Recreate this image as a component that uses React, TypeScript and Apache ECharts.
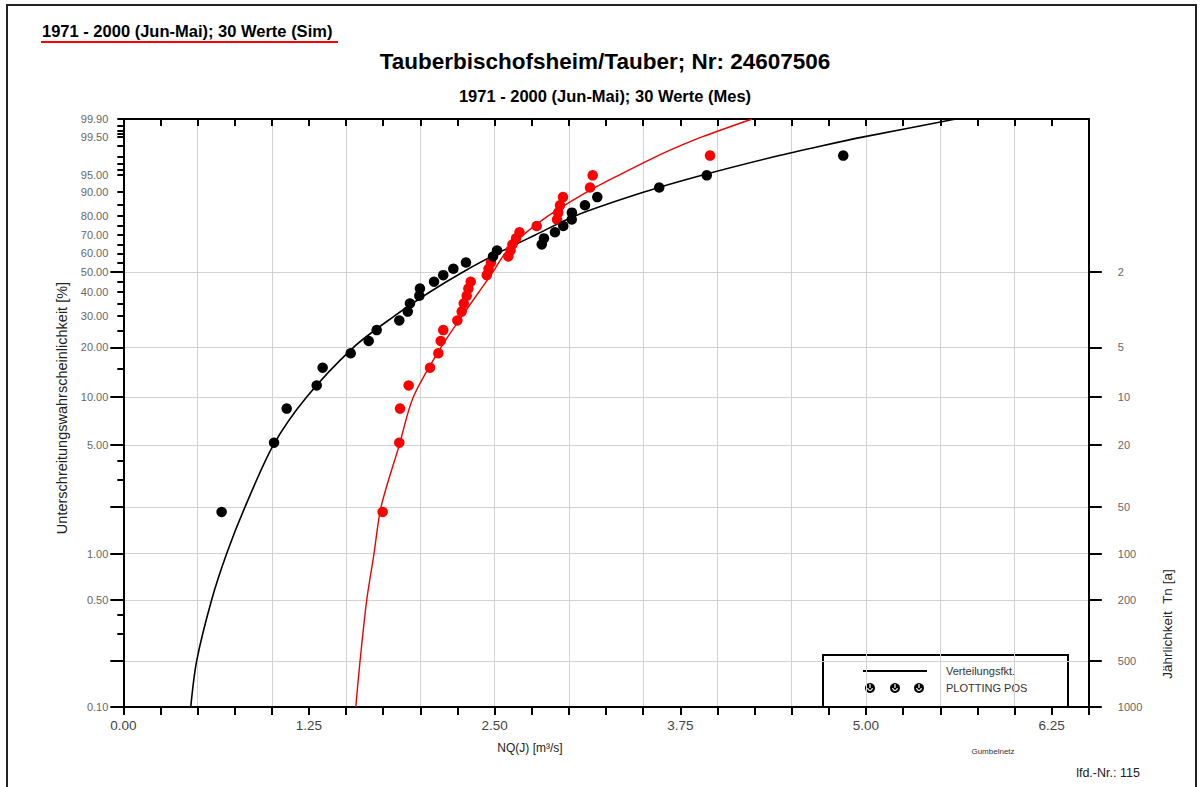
import React, { useEffect, useRef } from "react";
import * as echarts from "echarts";

// Plotting positions (Unterschreitungswahrscheinlichkeit in %) for the 30 ranked values
const plotPosPct = [
  1.86, 5.18, 8.5, 11.82, 15.14, 18.46, 21.78, 25.1, 28.42, 31.74, 35.06, 38.38, 41.7, 45.02, 48.34,
  51.66, 54.98, 58.3, 61.62, 64.94, 68.26, 71.58, 74.9, 78.22, 81.54, 84.86, 88.18, 91.5, 94.82, 98.14,
];
// Measured NQ(J) [m3/s], sorted (black)
const mesNQ = [
  0.662, 1.015, 1.1, 1.302, 1.342, 1.531, 1.652, 1.706, 1.858, 1.915, 1.93, 1.993, 1.997, 2.092, 2.154,
  2.222, 2.307, 2.489, 2.516, 2.817, 2.832, 2.906, 2.962, 3.019, 3.02, 3.108, 3.191, 3.608, 3.928, 4.847,
];
// Simulated NQ(J) [m3/s], sorted (red)
const simNQ = [
  1.746, 1.858, 1.863, 1.921, 2.065, 2.121, 2.137, 2.154, 2.249, 2.278, 2.292, 2.312, 2.323, 2.339, 2.447,
  2.459, 2.475, 2.592, 2.607, 2.62, 2.644, 2.667, 2.783, 2.92, 2.928, 2.94, 2.96, 3.142, 3.16, 3.95,
];
// Distribution function curves, read at these probabilities (%)
const curveP = [0.1, 0.2, 0.5, 1, 2, 5, 10, 20, 30, 40, 50, 60, 70, 80, 90, 95, 98, 99, 99.5, 99.9];
const mesCurve = [
  0.454, 0.494, 0.595, 0.696, 0.819, 1.01, 1.233, 1.55, 1.824, 2.061, 2.287, 2.52, 2.77, 3.041, 3.506,
  3.914, 4.381, 4.699, 4.993, 5.605,
];
const simCurve = [
  1.565, 1.594, 1.639, 1.688, 1.735, 1.858, 1.952, 2.139, 2.28, 2.393, 2.489, 2.57, 2.69, 2.86, 3.12,
  3.344, 3.584, 3.747, 3.901, 4.233,
];

// Axis ticks / labels
const xLabelValues = [0, 1.25, 2.5, 3.75, 5, 6.25];
const leftLabelPct = [0.1, 0.5, 1, 5, 10, 20, 30, 40, 50, 60, 70, 80, 90, 95, 99.5, 99.9];
const leftMinorPct = [0.2, 0.3, 0.4, 2, 3, 4, 15, 25, 35, 45, 55, 65, 75, 85, 96, 97, 98, 99, 99.6, 99.7, 99.8];
const returnPeriods = [2, 5, 10, 20, 50, 100, 200, 500, 1000];

// Gumbel (minimum) probability scale
const gum = (p: number) => Math.log(-Math.log(1 - p / 100));
const inv = (t: number) => (1 - Math.exp(-Math.exp(t))) * 100;

const FONT = '"Liberation Sans", Arial, Helvetica, sans-serif';

export default function App() {
  const ref = useRef<HTMLDivElement>(null);

  useEffect(() => {
    if (!ref.current) return;
    const chart = echarts.init(ref.current, null, { renderer: "svg" });
    const yMin = gum(0.1);
    const yMax = gum(99.9);

    const leftTicks = [...leftLabelPct, ...leftMinorPct].sort((a, b) => a - b).map(gum);
    const rightTicks = returnPeriods.map((T) => gum(100 / T));

    const option: any = {
      animation: false,
      backgroundColor: "#ffffff",
      textStyle: { fontFamily: FONT },
      grid: { left: 123.3, right: 114.2, top: 119, bottom: 80, containLabel: false },
      xAxis: [
        {
          type: "value",
          position: "bottom",
          min: 0,
          max: 6.5,
          interval: 0.25,
          axisLine: { show: true, onZero: false, lineStyle: { color: "#000", width: 2 } },
          axisTick: { show: true, inside: false, length: 8, lineStyle: { color: "#000", width: 2 } },
          axisLabel: {
            customValues: xLabelValues,
            formatter: (v: number) => v.toFixed(2),
            color: "#444",
            fontSize: 13.5,
            margin: 11,
            fontFamily: FONT,
          },
          splitLine: { show: false },
        },
        {
          type: "value",
          position: "top",
          min: 0,
          max: 6.5,
          interval: 0.25,
          axisLine: { show: true, onZero: false, lineStyle: { color: "#000", width: 2 } },
          axisTick: { show: true, inside: true, length: 7, lineStyle: { color: "#000", width: 2 } },
          axisLabel: { show: false },
          splitLine: { show: false },
        },
        {
          type: "value",
          position: "bottom",
          min: 0,
          max: 6.5,
          interval: 0.5,
          axisLine: { show: false },
          axisTick: { show: false },
          axisLabel: { show: false },
          splitLine: { show: true, lineStyle: { color: "#d2d2d2", width: 1 } },
        },
      ],
      yAxis: [
        {
          type: "value",
          position: "left",
          min: yMin,
          max: yMax,
          axisLine: { show: true, onZero: false, lineStyle: { color: "#000", width: 2 } },
          axisTick: {
            show: true,
            inside: false,
            length: 6,
            customValues: leftTicks,
            lineStyle: { color: "#000", width: 2 },
          },
          axisLabel: {
            customValues: leftLabelPct.map(gum),
            formatter: (v: number) => inv(v).toFixed(2),
            color: "#666",
            fontSize: 11,
            margin: 15,
            fontFamily: FONT,
          },
          splitLine: { show: false },
        },
        {
          type: "value",
          position: "right",
          min: yMin,
          max: yMax,
          axisLine: { show: true, onZero: false, lineStyle: { color: "#000", width: 2 } },
          axisTick: {
            show: true,
            inside: false,
            length: 13,
            customValues: rightTicks,
            lineStyle: { color: "#000", width: 2 },
          },
          axisLabel: {
            customValues: rightTicks,
            formatter: (v: number) => String(Math.round(100 / inv(v))),
            color: "#666",
            fontSize: 11,
            margin: 29,
            fontFamily: FONT,
          },
          splitLine: { show: false },
        },
        {
          type: "value",
          position: "right",
          min: yMin,
          max: yMax,
          axisLine: { show: false },
          axisTick: {
            show: true,
            inside: true,
            length: 13,
            customValues: rightTicks,
            lineStyle: { color: "#000", width: 2 },
          },
          axisLabel: { show: false, customValues: rightTicks },
          splitLine: { show: true, lineStyle: { color: "#d2d2d2", width: 1 } },
        },
      ],
      series: [
        {
          name: "Verteilungsfkt. Mes",
          type: "line",
          xAxisIndex: 0,
          yAxisIndex: 0,
          data: curveP.map((p, i) => [mesCurve[i], gum(p)]),
          showSymbol: false,
          smooth: 0.3,
          lineStyle: { color: "#000", width: 1.6 },
          z: 3,
        },
        {
          name: "Verteilungsfkt. Sim",
          type: "line",
          xAxisIndex: 0,
          yAxisIndex: 0,
          data: curveP.map((p, i) => [simCurve[i], gum(p)]),
          showSymbol: false,
          smooth: 0.3,
          lineStyle: { color: "#ee0000", width: 1.4 },
          z: 3,
        },
        {
          name: "PLOTTING POS Sim",
          type: "scatter",
          xAxisIndex: 0,
          yAxisIndex: 0,
          data: simNQ.map((x, i) => [x, gum(plotPosPct[i])]),
          symbol: "circle",
          symbolSize: 10.5,
          itemStyle: { color: "#ff0000", opacity: 1 },
          z: 4,
        },
        {
          name: "PLOTTING POS Mes",
          type: "scatter",
          xAxisIndex: 0,
          yAxisIndex: 0,
          data: mesNQ.map((x, i) => [x, gum(plotPosPct[i])]),
          symbol: "circle",
          symbolSize: 10.5,
          itemStyle: { color: "#000000", opacity: 1 },
          z: 5,
        },
      ],
      graphic: [
        {
          type: "rect",
          shape: { x: 7, y: 5, width: 1189, height: 800 },
          style: { fill: "none", stroke: "#222", lineWidth: 2 },
          silent: true,
        },
        {
          type: "text",
          x: 42,
          y: 31,
          style: {
            text: "1971 - 2000 (Jun-Mai); 30 Werte (Sim)",
            font: `bold 16.5px ${FONT}`,
            fill: "#000",
            textAlign: "left",
            textVerticalAlign: "middle",
          },
        },
        {
          type: "line",
          shape: { x1: 41, y1: 42, x2: 338, y2: 42 },
          style: { stroke: "#ff0000", lineWidth: 2 },
        },
        {
          type: "text",
          x: 605,
          y: 61,
          style: {
            text: "Tauberbischofsheim/Tauber; Nr: 24607506",
            font: `bold 22.5px ${FONT}`,
            fill: "#000",
            textAlign: "center",
            textVerticalAlign: "middle",
          },
        },
        {
          type: "text",
          x: 605,
          y: 96,
          style: {
            text: "1971 - 2000 (Jun-Mai); 30 Werte (Mes)",
            font: `bold 16.5px ${FONT}`,
            fill: "#000",
            textAlign: "center",
            textVerticalAlign: "middle",
          },
        },
        {
          type: "text",
          x: 62,
          y: 408,
          rotation: Math.PI / 2,
          style: {
            text: "Unterschreitungswahrscheinlichkeit [%]",
            font: `14.5px ${FONT}`,
            fill: "#222",
            textAlign: "center",
            textVerticalAlign: "middle",
          },
        },
        {
          type: "text",
          x: 1167,
          y: 624,
          rotation: Math.PI / 2,
          style: {
            text: "Jährlichkeit  Tn [a]",
            font: `13.5px ${FONT}`,
            fill: "#222",
            textAlign: "center",
            textVerticalAlign: "middle",
          },
        },
        {
          type: "text",
          x: 530,
          y: 748,
          style: {
            text: "NQ(J) [m³/s]",
            font: `12px ${FONT}`,
            fill: "#222",
            textAlign: "center",
            textVerticalAlign: "middle",
          },
        },
        {
          type: "text",
          x: 993,
          y: 751,
          style: {
            text: "Gumbelnetz",
            font: `8px ${FONT}`,
            fill: "#333",
            textAlign: "center",
            textVerticalAlign: "middle",
          },
        },
        {
          type: "text",
          x: 1108,
          y: 773,
          style: {
            text: "lfd.-Nr.: 115",
            font: `12.5px ${FONT}`,
            fill: "#222",
            textAlign: "center",
            textVerticalAlign: "middle",
          },
        },
        {
          type: "group",
          z: 20,
          children: [
            {
              type: "rect",
              shape: { x: 823, y: 655, width: 245, height: 52 },
              style: { fill: "#fff", stroke: "#000", lineWidth: 2 },
            },
            {
              type: "line",
              shape: { x1: 863, y1: 671, x2: 927, y2: 671 },
              style: { stroke: "#000", lineWidth: 2 },
            },
            ...[870, 895, 919].flatMap((cx) => [
              { type: "circle", shape: { cx, cy: 688, r: 5 }, style: { fill: "#000" } },
              {
                type: "arc",
                shape: { cx, cy: 688, r: 2.3, startAngle: 0, endAngle: Math.PI },
                style: { stroke: "#fff", lineWidth: 1.2, fill: "none" },
              },
              {
                type: "line",
                shape: { x1: cx, y1: 684, x2: cx, y2: 688 },
                style: { stroke: "#fff", lineWidth: 1.2 },
              },
            ]),
            {
              type: "text",
              x: 946,
              y: 671,
              style: {
                text: "Verteilungsfkt.",
                font: `11px ${FONT}`,
                fill: "#333",
                textAlign: "left",
                textVerticalAlign: "middle",
              },
            },
            {
              type: "text",
              x: 946,
              y: 688,
              style: {
                text: "PLOTTING POS",
                font: `11px ${FONT}`,
                fill: "#333",
                textAlign: "left",
                textVerticalAlign: "middle",
              },
            },
          ],
        },
      ],
    };

    chart.setOption(option);
    return () => chart.dispose();
  }, []);

  return (
    <div
      ref={ref}
      style={{ position: "absolute", left: 0, top: 0, width: 1203, height: 787, background: "#fff" }}
    />
  );
}
